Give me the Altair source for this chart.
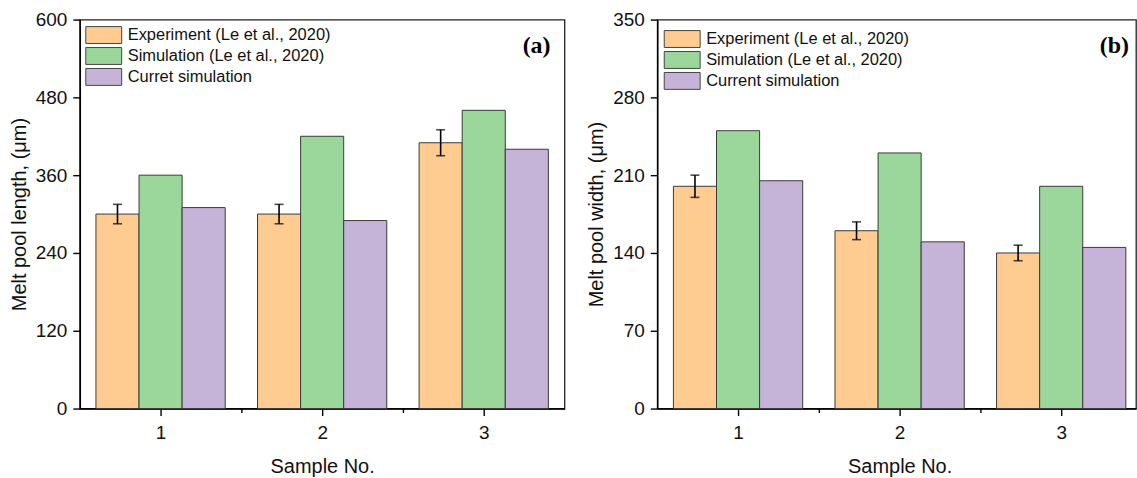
import altair as alt
import pandas as pd

samples = [1, 2, 3]
series_a = ["Experiment (Le et al., 2020)", "Simulation (Le et al., 2020)", "Curret simulation"]
series_b = ["Experiment (Le et al., 2020)", "Simulation (Le et al., 2020)", "Current simulation"]
colors = ["#FECC91", "#9BD79A", "#C6B4D8"]

length_exp = [300, 300, 410]
length_exp_err = [15, 15, 20]
length_sim = [360, 420, 460]
length_cur = [310, 290, 400]

width_exp = [200, 160, 140]
width_exp_err = [10, 8, 7]
width_sim = [250, 230, 200]
width_cur = [205, 150, 145]

FONT = "Liberation Sans"
PH = 390
STEP = 162  # pixels per sample unit


def bars_df(series, exp, sim, cur):
    rows = []
    for i, s in enumerate(samples):
        for idx, vals in enumerate([exp, sim, cur]):
            rows.append({"sample": s, "series": series[idx], "idx": idx, "value": vals[i]})
    return pd.DataFrame(rows)


def err_df(exp, err):
    return pd.DataFrame({"sample": samples, "value": exp, "err": err})


def panel(series, exp, err, sim, cur, ymax, ystep_minor, ystep_major, ytitle, tag,
          legend_x, legend_y, pw, tag_right):
    xscale = alt.Scale(domain=[0.5, 0.5 + pw / STEP], nice=False, zero=False)
    yscale = alt.Scale(domain=[0, ymax], nice=False, zero=True)
    xaxis = alt.Axis(
        values=[1, 1.5, 2, 2.5, 3],
        labelExpr="datum.value % 1 == 0 ? format(datum.value, 'd') : ''",
        tickSize={"condition": {"test": "datum.value % 1 != 0", "value": 4}, "value": 7},
        title="Sample No.",
        titleX=243,
        grid=False,
        labelPadding=8,
        titlePadding=14,
    )
    yaxis = alt.Axis(
        values=list(range(0, ymax + 1, ystep_minor)),
        labelExpr=f"datum.value % {ystep_major} == 0 ? format(datum.value, 'd') : ''",
        tickSize={"condition": {"test": f"datum.value % {ystep_major} != 0", "value": 4}, "value": 7},
        title=ytitle,
        grid=False,
        titlePadding=6,
    )
    bdf = bars_df(series, exp, sim, cur)
    bars = (
        alt.Chart(bdf)
        .transform_calculate(
            x0="datum.sample - 0.4 + datum.idx * 0.8 / 3",
            x1="datum.sample - 0.4 + (datum.idx + 1) * 0.8 / 3",
        )
        .mark_rect(stroke="#3a3a3a", strokeWidth=1)
        .encode(
            x=alt.X("x0:Q", scale=xscale, axis=xaxis),
            x2="x1:Q",
            y=alt.Y("value:Q", scale=yscale, axis=yaxis),
            y2=alt.datum(0),
            fill=alt.Fill(
                "series:N",
                scale=alt.Scale(domain=series, range=colors),
                legend=alt.Legend(
                    title=None,
                    orient="none",
                    legendX=legend_x,
                    legendY=legend_y,
                    symbolType="M-2,-0.94H2V0.94H-2Z",
                    symbolSize=324,
                    symbolStrokeColor="#444444",
                    symbolStrokeWidth=1,
                    symbolOpacity=1,
                    labelFont=FONT,
                    labelFontSize=16.5,
                    labelColor="#111111",
                    labelLimit=0,
                    labelOffset=14.5,
                    rowPadding=0,
                    padding=0,
                ),
            ),
        )
    )
    edf = err_df(exp, err)
    ebase = alt.Chart(edf).transform_calculate(
        xc="datum.sample - 0.8 / 3",
        lo="datum.value - datum.err",
        hi="datum.value + datum.err",
    )
    rule = ebase.mark_rule(color="black", strokeWidth=1.6).encode(
        x=alt.X("xc:Q", scale=xscale), y=alt.Y("lo:Q", scale=yscale), y2="hi:Q"
    )
    cap_lo = ebase.mark_tick(orient="horizontal", color="black", size=9, thickness=1.6).encode(
        x=alt.X("xc:Q", scale=xscale), y=alt.Y("lo:Q", scale=yscale)
    )
    cap_hi = ebase.mark_tick(orient="horizontal", color="black", size=9, thickness=1.6).encode(
        x=alt.X("xc:Q", scale=xscale), y=alt.Y("hi:Q", scale=yscale)
    )
    label = alt.Chart(pd.DataFrame({"t": [tag]})).mark_text(
        font="Liberation Serif", fontWeight="bold", fontSize=24, align="right", baseline="middle", color="black"
    ).encode(text="t:N", x=alt.value(tag_right), y=alt.value(27))
    return alt.layer(bars, rule, cap_lo, cap_hi, label).properties(width=pw, height=PH)


pa = panel(series_a, length_exp, length_exp_err, length_sim, length_cur, 600, 60, 120,
           "Melt pool length, (μm)", "(a)", 14.5, 6, 486, 472)
pb = panel(series_b, width_exp, width_exp_err, width_sim, width_cur, 350, 35, 70,
           "Melt pool width, (μm)", "(b)", 15.5, 10, 480, 473)

chart = (
    alt.hconcat(pa, pb, spacing=20)
    .resolve_scale(fill="independent")
    .properties(padding={"left": 8, "top": 9, "right": 0, "bottom": 0}, background="white")
    .configure_view(stroke="#222222", strokeWidth=1.3)
    .configure_axis(
        domainColor="black",
        domainWidth=1.5,
        tickColor="black",
        tickWidth=1.4,
        labelFont=FONT,
        labelFontSize=19,
        labelColor="#111111",
        labelPadding=6,
        titleFont=FONT,
        titleFontSize=20,
        titleFontWeight="normal",
        titleColor="#111111",
    )
)

chart.save("out.html", embed_options={"renderer": "svg", "actions": False})
